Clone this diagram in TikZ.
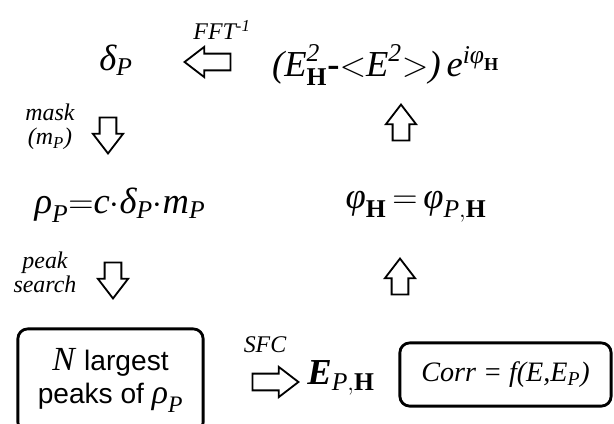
\documentclass[tikz,border=0pt]{standalone}
\usepackage{amsmath}
\usepackage{fontspec}
\setmainfont{Liberation Serif}
\setsansfont{Liberation Sans}
\usetikzlibrary{shapes.arrows,positioning,calc}
\newcommand{\tim}[1]{\textit{\rmfamily #1}}
\newcommand{\tbf}[1]{\textbf{\rmfamily #1}}

\begin{document}
\begin{tikzpicture}[
  x=0.025cm, y=-0.025cm,
  eqn/.style={inner sep=0pt,font=\fontsize{26}{30}\selectfont},
  lbl/.style={inner sep=0pt,align=center,font=\fontsize{17}{17}\selectfont\itshape},
  blockarr/.style={single arrow,draw,line width=1.3pt,fill=white,inner xsep=0pt,inner ysep=5.3pt,
    minimum height=25.6pt,single arrow head extend=4.8pt,single arrow tip angle=75},
  rbox/.style={draw,line width=2pt,rounded corners=7pt,inner sep=0pt,align=center}
]
  \useasboundingbox (0,0) rectangle (614,423);

  % top row
  \node[eqn] (dP) at (116,60) {$\tim{δ}_{\tim{P}}$};
  \node[eqn] (expr) at (386,65)
    {$\tim{(}\tim{E}^{\tim{2}}_{\tbf{H}}\tbf{-}{<}\tim{E}^{\tim{2}}{>}\tim{)}\,\tim{e}^{\tim{iφ}_{\tbf{H}}}$};
  \node[lbl] (fft) at (222,30) {FFT\textsuperscript{-1}};
  \node[blockarr,rotate=180,minimum height=32.7pt] (inv) at (213,62) {};

  % middle row
  \node[lbl] (mask) at (50,127) {mask\\($\tim{m}_{\tim{P}}$)};
  \node[blockarr,rotate=-90] (down1) at (108,130) {};
  \node[blockarr,rotate=90] (up1) at (401,128) {};
  \node[eqn] (rho) at (120,205)
    {$\tim{ρ}_{\tim{P}}{=}\tim{c}{\cdot}\tim{δ}_{\tim{P}}{\cdot}\tim{m}_{\tim{P}}$};
  \node[eqn] (phi) at (416,207)
    {$\tim{φ}_{\tbf{H}}\,{=}\,\tim{φ}_{\tim{P},\tbf{H}}$};
  \node[lbl] (peak) at (45,272) {peak\\search};
  \node[blockarr,rotate=-90] (down2) at (113,275) {};
  \node[blockarr,rotate=90] (up2) at (400,282) {};

  % bottom row
  \node[rbox,minimum width=4.63cm,minimum height=2.58cm,
    font=\fontsize{20}{23.5}\selectfont\sffamily] (nbox) at (110.5,380.5)
    {{\fontsize{24}{24}\selectfont\tim{N}} largest\\
     peaks of {\fontsize{24}{24}\selectfont$\tim{ρ}_{\tim{P}}$}};
  \node[lbl] (sfc) at (265,345) {SFC};
  \node[blockarr,minimum height=32.7pt] (sfcarr) at (270,382) {};
  \node[eqn] (EPH) at (341,378) {$\tbf{\tim{E}}_{\tim{P},\tbf{H}}$};
  \node[rbox,minimum width=5.28cm,minimum height=1.58cm,
    font=\fontsize{20}{22}\selectfont\itshape] (corr) at (505.5,374.5)
    {Corr = f(E,E$_{\tim{P}}$)};
\end{tikzpicture}
\end{document}
